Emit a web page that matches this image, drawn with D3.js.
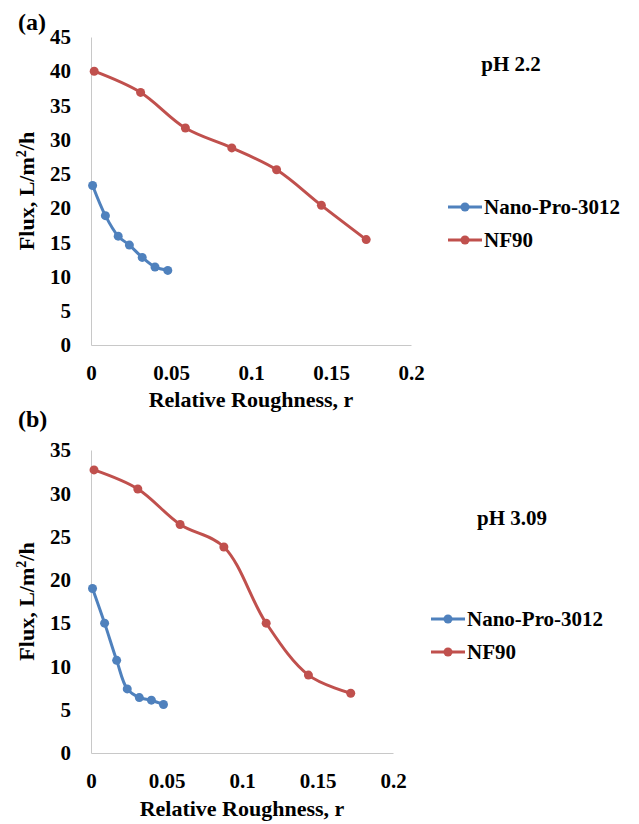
<!DOCTYPE html>
<meta charset="utf-8">
<script src="https://d3js.org/d3.v7.min.js"></script>
<style>
  body { margin: 0; background: #fff; }
  text { font-family: "Liberation Serif", "Times New Roman", serif; font-weight: bold; fill: #000; }
</style>
<div id="chart"></div>
<script>
// data
var nanoX = [0.001, 0.009, 0.017, 0.024, 0.032, 0.040, 0.048];
var nf90X = [0.002, 0.031, 0.059, 0.088, 0.116, 0.144, 0.172];
var aNano = [23.3, 18.9, 15.9, 14.6, 12.8, 11.4, 10.9];
var aNF90 = [40.0, 36.9, 31.7, 28.8, 25.6, 20.4, 15.4];
var bNano = [19.0, 15.0, 10.7, 7.4, 6.4, 6.1, 5.6];
var bNF90 = [32.7, 30.5, 26.4, 23.8, 15.0, 9.0, 6.9];
var xTicks = [0, 0.05, 0.1, 0.15, 0.2];
var seriesNames = ["Nano-Pro-3012", "NF90"];
var colors = ["#4F81BD", "#C0504D"];

var svg = d3.select("#chart").append("svg")
    .attr("width", 639)
    .attr("height", 824);

// panel layout
var panels = [
  {tag: "(a)", ph: "pH 2.2", yMax: 45, nano: aNano, nf90: aNF90,
   left: 91, right: 411, top: 37, bottom: 345,
   tagY: 30, phX: 511, phY: 71, legX: 448, legY: 207, titleY: 407},
  {tag: "(b)", ph: "pH 3.09", yMax: 35, nano: bNano, nf90: bNF90,
   left: 91, right: 393, top: 450, bottom: 753,
   tagY: 427, phX: 512, phY: 525, legX: 431, legY: 619, titleY: 816}
];

panels.forEach(function(p) {
  var x = d3.scaleLinear().domain([0, 0.2]).range([p.left, p.right]);
  var y = d3.scaleLinear().domain([0, p.yMax]).range([p.bottom, p.top]);

  // axes
  var yAxis = svg.append("g")
      .attr("transform", "translate(" + p.left + ",0)")
      .call(d3.axisLeft(y).tickValues(d3.range(0, p.yMax + 1, 5)).tickSize(0).tickPadding(20));
  var xAxis = svg.append("g")
      .attr("transform", "translate(0," + p.bottom + ")")
      .call(d3.axisBottom(x).tickValues(xTicks).tickSize(0).tickPadding(20)
        .tickFormat(function(d) { return String(+d.toFixed(2)); }));
  [xAxis, yAxis].forEach(function(a) {
    a.select(".domain").attr("stroke", "#c8c8c8").attr("stroke-width", 1);
    a.selectAll("text")
      .style("font-size", "21px")
      .style("font-family", "'Liberation Serif', serif")
      .style("font-weight", "bold")
      .attr("fill", "#000");
  });

  // series
  var line = d3.line()
      .x(function(d) { return x(d[0]); })
      .y(function(d) { return y(d[1]); })
      .curve(d3.curveCatmullRom);
  var sets = [d3.zip(nanoX, p.nano), d3.zip(nf90X, p.nf90)];
  sets.forEach(function(pts, i) {
    svg.append("path")
      .datum(pts)
      .attr("d", line)
      .attr("fill", "none")
      .attr("stroke", colors[i])
      .attr("stroke-width", 3);
    svg.append("g").selectAll("circle")
      .data(pts)
      .enter().append("circle")
        .attr("cx", function(d) { return x(d[0]); })
        .attr("cy", function(d) { return y(d[1]); })
        .attr("r", 4.5)
        .attr("fill", colors[i]);
  });

  // labels
  svg.append("text").attr("x", 18).attr("y", p.tagY)
    .style("font-size", "24px").text(p.tag);
  svg.append("text").attr("x", p.phX).attr("y", p.phY)
    .attr("text-anchor", "middle").style("font-size", "21px").text(p.ph);
  svg.append("text")
    .attr("x", (p.left + p.right) / 2).attr("y", p.titleY)
    .attr("text-anchor", "middle").style("font-size", "22px")
    .text("Relative Roughness, r");
  svg.append("text")
    .attr("transform", "translate(34," + ((p.top + p.bottom) / 2) + ") rotate(-90)")
    .attr("text-anchor", "middle").style("font-size", "22px")
    .html("Flux, L/m<tspan dy='-8' font-size='14px'>2</tspan><tspan dy='8'>/h</tspan>");

  // legend
  seriesNames.forEach(function(name, i) {
    var ly = p.legY + i * 33;
    svg.append("line")
      .attr("x1", p.legX).attr("x2", p.legX + 34)
      .attr("y1", ly).attr("y2", ly)
      .attr("stroke", colors[i]).attr("stroke-width", 3);
    svg.append("circle")
      .attr("cx", p.legX + 17).attr("cy", ly).attr("r", 4.5)
      .attr("fill", colors[i]);
    svg.append("text")
      .attr("x", p.legX + 36).attr("y", ly + 7)
      .style("font-size", "21px").text(name);
  });
});
</script>
